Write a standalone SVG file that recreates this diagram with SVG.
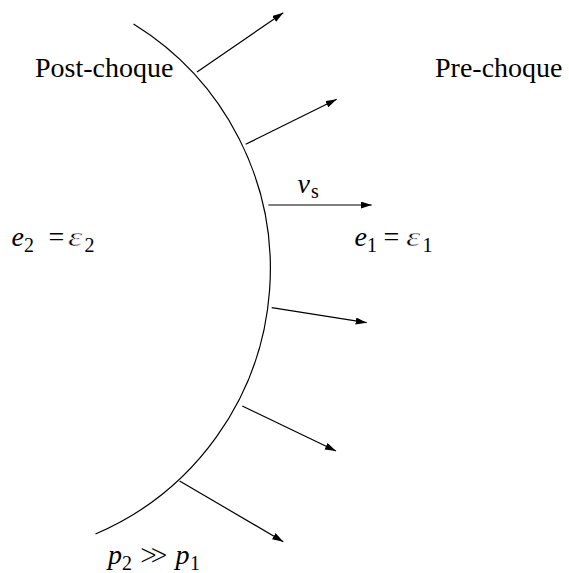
<svg xmlns="http://www.w3.org/2000/svg" width="569" height="573" viewBox="0 0 569 573">
<style>
.ln{stroke:#000;stroke-width:1.2;fill:none}
.ar{stroke:#000;stroke-width:1.2;fill:none;marker-end:url(#ah)}
.t{font-family:"Liberation Serif","Times New Roman",serif;font-size:28px;fill:#000}
.i{font-style:italic}
.s{font-size:20px}
.m{font-family:"DejaVu Serif",serif;font-size:28px;stroke:#fff;stroke-width:1.1}
.ep{stroke:#fff;stroke-width:0.5}
</style>
<defs>
<marker id="ah" markerUnits="userSpaceOnUse" markerWidth="12" markerHeight="8" refX="11" refY="3.5" orient="auto">
<path d="M0,0 L11,3.5 L0,7 z" fill="#000"/>
</marker>
</defs>
<g id="shock">
<path class="ln" d="M 133.5 24 A 288 288 0 0 1 95.5 534"/>
</g>
<g id="connectors">
<line class="ar" x1="197" y1="72" x2="283.3" y2="12.7"/>
<line class="ar" x1="245.7" y1="144.3" x2="336.7" y2="99.3"/>
<line class="ar" x1="268.3" y1="205" x2="371.7" y2="205"/>
<line class="ar" x1="271.7" y1="307.7" x2="366.7" y2="322.7"/>
<line class="ar" x1="242.3" y1="406" x2="336" y2="451"/>
<line class="ar" x1="179.6" y1="481" x2="283.3" y2="541.7"/>
</g>
<g id="post">
<text class="t" x="35" y="76.5">Post-choque</text>
</g>
<g id="pre">
<text class="t" x="435" y="76.5">Pre-choque</text>
</g>
<g id="vs">
<text class="t" x="297.5" y="193.3"><tspan class="i">v</tspan><tspan class="s" x="311" y="197.7">s</tspan></text>
</g>
<g id="e2">
<text class="t" x="11.5" y="246"><tspan class="i">e</tspan><tspan class="s" x="24" y="252">2</tspan><tspan x="48.5" y="246">=</tspan></text>
<text class="t i ep" transform="translate(68,246) scale(1.3,1)" x="0" y="0">ε</text>
<text class="t s" x="84.5" y="252">2</text>
</g>
<g id="e1">
<text class="t" x="354.5" y="245.5"><tspan class="i">e</tspan><tspan class="s" x="367" y="251.5">1</tspan><tspan x="383.5" y="245.5">=</tspan></text>
<text class="t i ep" transform="translate(406,245.5) scale(1.3,1)" x="0" y="0">ε</text>
<text class="t s" x="422.5" y="251.5">1</text>
</g>
<g id="p">
<text class="t" x="108" y="564"><tspan class="i">p</tspan><tspan class="s" x="122" y="570">2</tspan><tspan class="m" x="139" y="564">≫</tspan><tspan class="i" x="175.5" y="564">p</tspan><tspan class="s" x="190" y="570">1</tspan></text>
</g>
</svg>
